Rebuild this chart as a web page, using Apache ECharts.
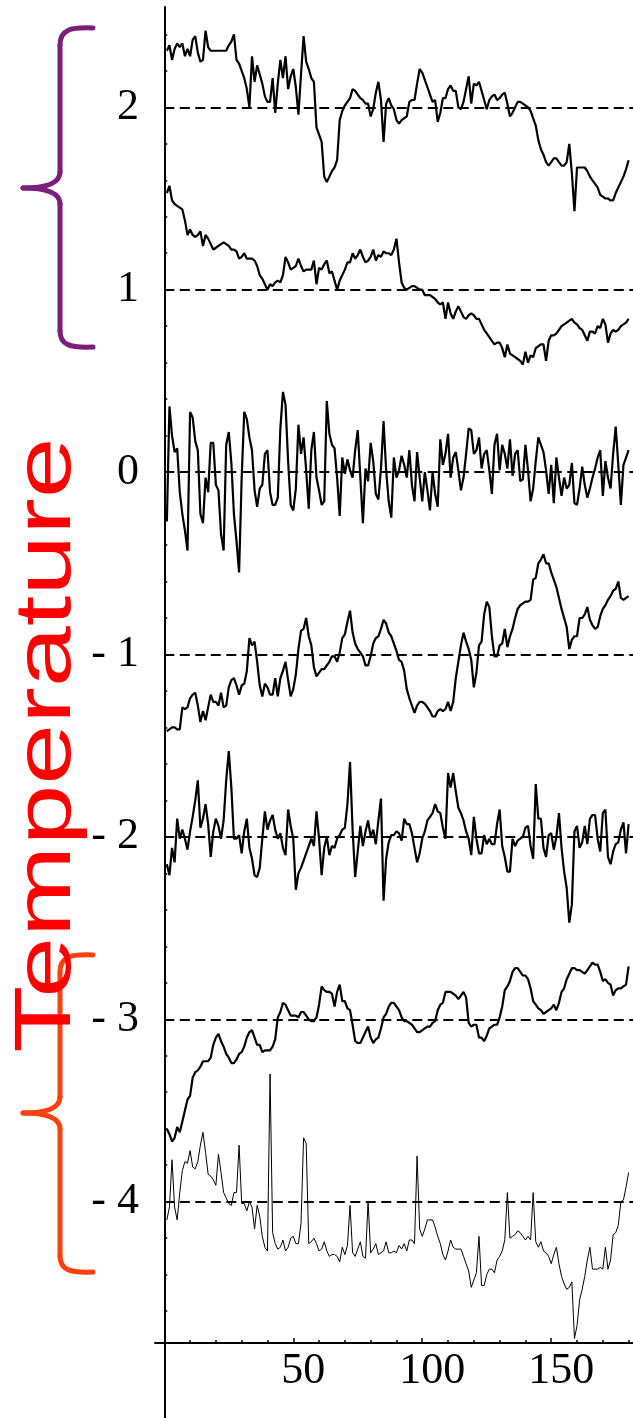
<!DOCTYPE html>
<html><head><meta charset="utf-8">
<script src="https://cdn.jsdelivr.net/npm/echarts@6/dist/echarts.min.js"></script>
<style>html,body{margin:0;padding:0;background:#fff}#c{width:633px;height:1418px}</style>
</head><body><div id="c"></div>
<script>
// time index 1..180
const timeIndex = Array.from({length: 180}, (_, i) => i + 1);
const baselines = [2, 1, 0, -1, -2, -3, -4];
const yMajorTicks = [-4, -3, -2, -1, 0, 1, 2];
const yMinorTicks = [-4.6,-4.4,-4.2,-4.0,-3.8,-3.6,-3.4,-3.2,-3.0,-2.8,-2.6,-2.4,-2.2,-2.0,-1.8,-1.6,-1.4,-1.2,-1.0,-0.8,-0.6,-0.4,-0.2,0,0.2,0.4,0.6,0.8,1.0,1.2,1.4,1.6,1.8,2.0,2.2,2.4];
const xMajorTicks = [50, 100, 150];
const xMinorTicks = [10,20,30,40,50,60,70,80,90,100,110,120,130,140,150,160,170,180];

const seriesA = [2.31,2.34,2.26,2.32,2.35,2.33,2.35,2.28,2.32,2.28,
2.37,2.39,2.30,2.25,2.26,2.42,2.33,2.31,2.31,2.31,
2.31,2.31,2.31,2.31,2.34,2.36,2.40,2.26,2.24,2.20,
2.16,2.10,2.00,2.28,2.14,2.23,2.18,2.13,2.06,2.03,
2.03,2.16,1.97,2.13,2.26,2.16,2.28,2.10,2.17,2.21,
2.11,1.96,2.18,2.39,2.25,2.21,2.16,2.14,1.89,1.85,
1.81,1.62,1.59,1.62,1.65,1.67,1.71,1.93,1.98,2.01,
2.03,2.05,2.10,2.09,2.07,2.05,2.04,2.02,2.02,1.95,
1.99,2.08,2.14,2.04,1.81,2.02,2.05,2.01,1.99,1.93,
1.91,1.93,1.94,1.95,2.03,2.04,2.04,2.13,2.21,2.19,
2.15,2.11,2.07,2.03,2.04,1.92,1.97,2.05,2.05,2.10,
2.12,2.09,2.09,2.00,1.99,2.03,2.10,2.17,2.02,2.13,
2.12,2.14,2.09,2.04,1.99,2.04,2.06,2.07,2.04,2.05,
2.07,2.08,2.02,1.95,1.97,2.00,2.03,2.03,2.02,2.01,
2.00,1.98,1.94,1.90,1.82,1.77,1.74,1.70,1.68,1.70,
1.72,1.72,1.70,1.68,1.68,1.70,1.80,1.64,1.43,1.67,
1.67,1.67,1.67,1.65,1.62,1.60,1.58,1.56,1.52,1.51,
1.50,1.50,1.49,1.49,1.53,1.56,1.59,1.62,1.66,1.71];

const seriesB = [1.53,1.57,1.49,1.47,1.46,1.45,1.44,1.38,1.30,1.33,
1.30,1.29,1.30,1.32,1.24,1.30,1.28,1.25,1.22,1.23,
1.24,1.25,1.26,1.25,1.24,1.22,1.22,1.21,1.17,1.18,
1.20,1.17,1.17,1.17,1.16,1.13,1.08,1.06,1.03,1.00,
1.03,1.02,1.04,1.05,1.04,1.08,1.18,1.15,1.11,1.12,
1.13,1.17,1.13,1.10,1.11,1.11,1.11,1.16,1.03,1.12,
1.11,1.14,1.16,1.09,1.10,1.05,1.00,1.05,1.08,1.11,
1.15,1.15,1.20,1.17,1.19,1.22,1.18,1.15,1.16,1.18,
1.22,1.16,1.19,1.18,1.21,1.20,1.20,1.19,1.22,1.28,
1.15,1.04,1.01,1.00,1.01,1.02,1.02,1.01,1.00,1.00,
0.97,0.97,0.97,0.96,0.95,0.93,0.92,0.93,0.84,0.93,
0.87,0.84,0.88,0.91,0.88,0.85,0.84,0.86,0.87,0.86,
0.84,0.84,0.81,0.78,0.76,0.74,0.72,0.70,0.71,0.71,
0.68,0.63,0.70,0.65,0.64,0.63,0.62,0.61,0.59,0.66,
0.60,0.64,0.63,0.68,0.69,0.70,0.70,0.61,0.72,0.75,
0.75,0.76,0.78,0.80,0.81,0.82,0.83,0.84,0.82,0.81,
0.79,0.78,0.75,0.72,0.77,0.77,0.76,0.80,0.79,0.84,
0.81,0.71,0.76,0.78,0.77,0.78,0.80,0.81,0.82,0.84];

const seriesC = [-0.27,0.36,0.20,0.11,0.13,-0.11,-0.23,-0.32,-0.43,0.33,
0.30,0.17,0.12,-0.23,-0.28,-0.03,-0.11,0.16,0.16,-0.07,
-0.10,-0.34,-0.43,0.15,0.22,0.05,-0.23,-0.38,-0.55,-0.03,
0.33,0.29,0.19,0.12,-0.10,-0.19,-0.09,-0.07,0.10,0.12,
-0.11,-0.18,-0.18,-0.14,0.24,0.44,0.37,0.06,-0.18,-0.21,
-0.09,0.26,0.10,0.19,0.01,-0.20,0.12,0.22,-0.03,-0.10,
-0.18,-0.16,0.39,0.21,0.15,0.13,-0.03,-0.24,0.08,-0.01,
0.07,0.01,-0.03,0.12,0.23,-0.03,-0.28,0.02,-0.05,0.16,
0.06,-0.12,-0.15,0.02,0.28,0.01,-0.16,-0.25,0.08,-0.03,
0.01,0.09,0.04,-0.03,0.12,-0.07,-0.16,0.11,-0.03,-0.16,
0.00,-0.10,-0.21,0.00,-0.12,-0.19,0.18,0.04,0.10,0.21,
-0.03,0.08,0.11,0.01,-0.10,-0.03,0.10,0.24,0.23,0.10,
0.12,0.19,0.02,0.10,0.12,0.01,-0.12,0.15,0.21,0.01,
0.15,0.10,0.02,0.18,-0.02,0.10,0.12,-0.05,-0.04,0.15,
0.01,-0.16,-0.09,0.06,0.19,0.15,0.11,0.01,-0.12,0.04,
-0.17,0.08,-0.03,-0.13,-0.03,-0.09,-0.07,0.05,-0.17,-0.18,
-0.09,0.03,-0.07,-0.14,-0.09,-0.03,0.02,0.08,0.12,-0.13,
0.06,-0.03,-0.09,0.10,0.25,0.04,-0.18,0.04,0.08,0.12];

const seriesD = [-1.42,-1.41,-1.40,-1.40,-1.41,-1.41,-1.29,-1.30,-1.29,-1.24,
-1.22,-1.21,-1.28,-1.37,-1.31,-1.36,-1.29,-1.22,-1.26,-1.26,
-1.28,-1.21,-1.29,-1.28,-1.18,-1.14,-1.13,-1.17,-1.22,-1.17,
-1.16,-1.09,-0.91,-0.95,-0.93,-1.04,-1.17,-1.23,-1.16,-1.18,
-1.22,-1.22,-1.13,-1.23,-1.13,-1.09,-1.04,-1.14,-1.23,-1.19,
-1.11,-0.97,-0.87,-0.86,-0.80,-0.90,-0.95,-1.07,-1.12,-1.10,
-1.08,-1.08,-1.06,-1.04,-1.01,-1.01,-1.04,-0.99,-0.91,-0.89,
-0.82,-0.76,-0.88,-0.94,-0.97,-0.99,-1.01,-1.06,-1.06,-1.01,
-0.94,-0.91,-0.90,-0.86,-0.81,-0.83,-0.88,-0.90,-0.94,-0.98,
-1.03,-1.04,-1.09,-1.19,-1.24,-1.28,-1.32,-1.28,-1.26,-1.26,
-1.27,-1.29,-1.31,-1.34,-1.34,-1.31,-1.30,-1.31,-1.30,-1.26,
-1.31,-1.26,-1.13,-1.04,-0.95,-0.88,-0.93,-0.97,-1.03,-1.18,
-1.10,-0.95,-0.93,-0.78,-0.71,-0.74,-0.90,-1.01,-1.01,-0.95,
-0.94,-0.86,-0.96,-0.90,-0.86,-0.80,-0.75,-0.73,-0.72,-0.71,
-0.71,-0.70,-0.59,-0.58,-0.50,-0.48,-0.45,-0.50,-0.50,-0.55,
-0.59,-0.63,-0.69,-0.75,-0.80,-0.85,-0.97,-0.92,-0.90,-0.90,
-0.80,-0.80,-0.78,-0.74,-0.81,-0.84,-0.86,-0.85,-0.79,-0.75,
-0.73,-0.70,-0.68,-0.65,-0.64,-0.60,-0.69,-0.70,-0.69,-0.68];

const seriesE = [-2.15,-2.21,-2.06,-2.14,-1.90,-2.01,-1.96,-2.01,-2.07,-1.97,
-1.89,-1.80,-1.69,-1.95,-1.90,-1.82,-1.93,-2.11,-1.97,-1.90,
-1.94,-2.01,-1.91,-1.69,-1.53,-1.73,-2.01,-2.01,-1.99,-2.09,
-1.97,-1.90,-2.06,-2.12,-2.21,-2.22,-2.17,-2.01,-1.86,-1.96,
-1.91,-1.88,-1.96,-2.01,-1.98,-2.06,-2.10,-1.85,-1.94,-2.01,
-2.29,-2.20,-2.17,-2.13,-2.09,-2.05,-2.01,-2.05,-1.86,-2.01,
-2.21,-2.06,-2.00,-2.10,-2.05,-2.06,-2.01,-1.99,-1.96,-1.95,
-1.82,-1.59,-1.96,-2.22,-2.08,-1.94,-2.05,-1.97,-1.91,-2.00,
-1.96,-2.04,-1.91,-1.79,-2.35,-2.12,-2.03,-1.99,-1.99,-1.97,
-1.98,-2.02,-1.90,-1.93,-1.93,-1.98,-2.06,-2.14,-2.09,-2.01,
-1.97,-1.91,-1.89,-1.87,-1.82,-1.86,-1.87,-1.95,-2.01,-1.65,
-1.73,-1.65,-1.75,-1.84,-1.87,-1.91,-1.97,-2.01,-2.10,-1.89,
-2.01,-2.09,-2.09,-1.99,-2.04,-2.01,-2.04,-2.04,-1.93,-1.85,
-2.05,-2.11,-2.19,-2.19,-2.01,-2.05,-2.02,-2.01,-2.00,-1.95,
-1.94,-2.05,-2.12,-1.71,-1.90,-1.90,-2.06,-2.11,-1.99,-1.98,
-2.07,-2.00,-1.87,-2.06,-2.19,-2.28,-2.47,-2.37,-1.97,-1.94,
-2.06,-2.03,-1.94,-2.04,-1.90,-1.88,-1.88,-2.01,-2.08,-1.87,
-1.85,-2.11,-2.15,-2.08,-2.04,-2.03,-1.96,-1.92,-2.09,-1.93];

const seriesF = [-3.60,-3.63,-3.67,-3.65,-3.59,-3.62,-3.56,-3.50,-3.44,-3.42,
-3.32,-3.29,-3.28,-3.26,-3.23,-3.23,-3.23,-3.21,-3.14,-3.10,
-3.08,-3.12,-3.15,-3.19,-3.21,-3.24,-3.24,-3.22,-3.19,-3.18,
-3.15,-3.10,-3.07,-3.06,-3.10,-3.14,-3.14,-3.18,-3.17,-3.17,
-3.17,-3.15,-3.11,-2.99,-2.96,-2.91,-2.92,-2.95,-2.98,-2.98,
-2.98,-2.99,-2.96,-2.96,-2.98,-3.00,-3.01,-3.01,-2.99,-2.92,
-2.82,-2.84,-2.85,-2.85,-2.86,-2.93,-2.85,-2.81,-2.90,-2.90,
-2.94,-2.95,-3.03,-3.12,-3.13,-3.13,-3.10,-3.07,-3.04,-3.10,
-3.13,-3.11,-3.10,-3.05,-2.99,-2.97,-2.93,-2.91,-2.91,-2.93,
-2.95,-2.99,-3.01,-3.01,-3.02,-3.03,-3.05,-3.07,-3.07,-3.06,
-3.05,-3.04,-3.04,-3.02,-3.01,-2.95,-2.92,-2.91,-2.85,-2.85,
-2.85,-2.86,-2.87,-2.89,-2.87,-2.85,-2.88,-3.02,-3.04,-3.03,
-3.03,-3.10,-3.10,-3.12,-3.09,-3.05,-3.04,-3.03,-3.03,-2.99,
-2.93,-2.84,-2.82,-2.79,-2.74,-2.72,-2.72,-2.74,-2.76,-2.76,
-2.78,-2.83,-2.90,-2.92,-2.94,-2.95,-2.97,-2.96,-2.95,-2.94,
-2.92,-2.95,-2.91,-2.85,-2.83,-2.78,-2.75,-2.72,-2.72,-2.73,
-2.73,-2.74,-2.75,-2.73,-2.71,-2.69,-2.70,-2.70,-2.74,-2.79,
-2.78,-2.80,-2.81,-2.87,-2.84,-2.83,-2.83,-2.82,-2.81,-2.71];

const seriesG = [-4.10,-4.03,-3.77,-4.03,-4.10,-3.95,-3.83,-3.78,-3.79,-3.72,
-3.81,-3.82,-3.78,-3.69,-3.62,-3.73,-3.85,-3.86,-3.88,-3.91,
-3.74,-3.84,-3.95,-3.98,-4.01,-4.02,-3.95,-3.95,-3.69,-4.01,
-4.01,-4.05,-4.00,-4.03,-4.15,-4.02,-4.08,-4.19,-4.25,-4.27,
-3.30,-4.17,-4.23,-4.26,-4.25,-4.21,-4.27,-4.25,-4.20,-4.19,
-4.23,-4.23,-4.12,-3.65,-3.68,-4.23,-4.22,-4.20,-4.23,-4.27,
-4.26,-4.22,-4.27,-4.30,-4.29,-4.29,-4.30,-4.33,-4.25,-4.29,
-4.24,-4.02,-4.28,-4.30,-4.26,-4.22,-4.30,-4.31,-4.00,-4.28,
-4.26,-4.23,-4.29,-4.28,-4.27,-4.22,-4.28,-4.28,-4.27,-4.28,
-4.24,-4.26,-4.23,-4.27,-4.21,-4.21,-4.23,-3.75,-4.15,-4.19,
-4.15,-4.10,-4.10,-4.10,-4.14,-4.19,-4.23,-4.29,-4.32,-4.27,
-4.21,-4.25,-4.26,-4.26,-4.26,-4.30,-4.34,-4.38,-4.47,-4.43,
-4.39,-4.19,-4.46,-4.46,-4.40,-4.37,-4.37,-4.39,-4.32,-4.30,
-4.27,-4.21,-3.95,-4.20,-4.19,-4.18,-4.16,-4.17,-4.19,-4.21,
-4.19,-4.21,-3.95,-4.22,-4.25,-4.22,-4.27,-4.28,-4.30,-4.34,
-4.29,-4.25,-4.34,-4.41,-4.45,-4.48,-4.47,-4.44,-4.75,-4.68,
-4.54,-4.48,-4.41,-4.32,-4.25,-4.37,-4.37,-4.37,-4.36,-4.37,
-4.25,-4.37,-4.32,-4.18,-4.17,-4.13,-4.00,-3.99,-3.92,-3.84];

const allSeries = [seriesA, seriesB, seriesC, seriesD, seriesE, seriesF, seriesG];
const lineWidths = [2.2, 2.2, 2.2, 2.2, 2.2, 2.2, 1];

const X_MIN = -3.6, X_MAX = 181.7, Y_MIN = -5.186, Y_MAX = 2.55;
const serifFont = "'Liberation Serif','Times New Roman',serif";

const chart = echarts.init(document.getElementById('c'), null, {renderer: 'canvas'});

const series = allSeries.map((vals, k) => ({
  type: 'line',
  xAxisIndex: 0, yAxisIndex: 0,
  data: timeIndex.map((t, i) => [t, vals[i]]),
  showSymbol: false, symbol: 'none',
  lineStyle: {color: '#000', width: lineWidths[k]},
  silent: true, z: 3
}));
series[0].markLine = {
  silent: true, symbol: ['none', 'none'], label: {show: false}, animation: false,
  lineStyle: {color: '#000', width: 2, type: [10, 5.5]},
  data: baselines.map(b => [{coord: [0, b]}, {coord: [X_MAX, b]}])
};

// curly brace decoration built from bezier curves and lines
function brace(top, mid, bot, color) {
  const st = {stroke: color, lineWidth: 5, fill: null, lineCap: 'round'};
  return [
    {type: 'bezierCurve', silent: true, shape: {x1: 93, y1: top, cpx1: 70, cpy1: top - 1, cpx2: 60, cpy2: top + 2, x2: 60, y2: top + 17}, style: st},
    {type: 'line', silent: true, shape: {x1: 60, y1: top + 17, x2: 60, y2: mid - 16}, style: st},
    {type: 'bezierCurve', silent: true, shape: {x1: 60, y1: mid - 16, cpx1: 60, cpy1: mid - 4, cpx2: 45, cpy2: mid, x2: 23, y2: mid}, style: st},
    {type: 'bezierCurve', silent: true, shape: {x1: 23, y1: mid, cpx1: 45, cpy1: mid, cpx2: 60, cpy2: mid + 4, x2: 60, y2: mid + 16}, style: st},
    {type: 'line', silent: true, shape: {x1: 60, y1: mid + 16, x2: 60, y2: bot - 16}, style: st},
    {type: 'bezierCurve', silent: true, shape: {x1: 60, y1: bot - 16, cpx1: 60, cpy1: bot - 2, cpx2: 70, cpy2: bot + 1, x2: 93, y2: bot}, style: st}
  ];
}

chart.setOption({
  animation: false,
  backgroundColor: '#fff',
  grid: {left: 155, right: 0, top: 7, bottom: 0, outerBoundsMode: 'none', containLabel: false},
  xAxis: [
    {type: 'value', min: X_MIN, max: X_MAX, position: 'bottom', offset: -75,
     axisLine: {onZero: false, lineStyle: {color: '#000', width: 2}},
     axisTick: {inside: true, length: 5, customValues: xMajorTicks, lineStyle: {color: '#000', width: 1.5}},
     axisLabel: {customValues: xMajorTicks, color: '#000', fontFamily: serifFont, fontSize: 44, margin: 6, padding: [0, 0, 0, 20]},
     splitLine: {show: false}},
    {type: 'value', min: X_MIN, max: X_MAX, position: 'bottom', offset: -75,
     axisLine: {show: false, onZero: false},
     axisTick: {inside: true, length: 3, customValues: xMinorTicks, lineStyle: {color: '#000', width: 1.5}},
     axisLabel: {show: false}, splitLine: {show: false}}
  ],
  yAxis: [
    {type: 'value', min: Y_MIN, max: Y_MAX, position: 'left',
     axisLine: {onZero: true, lineStyle: {color: '#000', width: 2}},
     axisTick: {inside: true, length: 5, customValues: yMajorTicks, lineStyle: {color: '#000', width: 1.5}},
     axisLabel: {customValues: yMajorTicks, color: '#000', fontFamily: serifFont, fontSize: 44, margin: 16,
       formatter: v => (v < 0 ? '- ' + Math.abs(v) : String(v))},
     splitLine: {show: false}},
    {type: 'value', min: Y_MIN, max: Y_MAX, position: 'left',
     axisLine: {show: false, onZero: true},
     axisTick: {inside: true, length: 3, customValues: yMinorTicks, lineStyle: {color: '#000', width: 1.5}},
     axisLabel: {show: false}, splitLine: {show: false}}
  ],
  graphic: brace(28, 188, 347, '#7b1f7b').concat(brace(955, 1113, 1272, '#ff4010')).concat([
    {type: 'text', silent: true, x: 48, y: 745, rotation: Math.PI / 2, scaleX: 1.37,
     style: {text: 'Temperature', fontFamily: "'Liberation Sans',Arial,sans-serif", fontSize: 80,
       fill: '#ff0000', align: 'center', verticalAlign: 'middle'}}
  ]),
  series: series
});
</script>
</body></html>
